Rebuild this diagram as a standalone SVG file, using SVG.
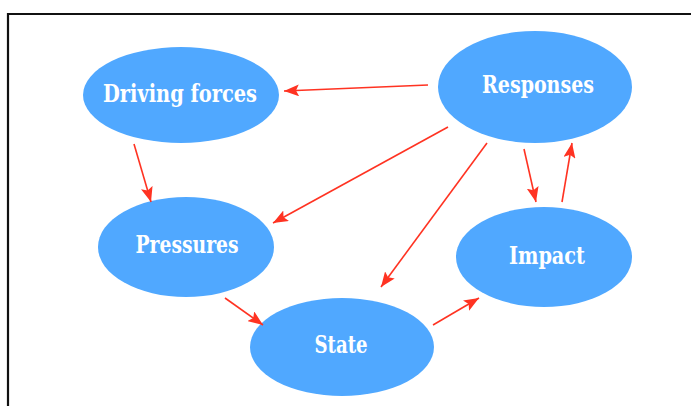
<svg xmlns="http://www.w3.org/2000/svg" width="691" height="406" viewBox="0 0 691 406">
<style>
.node ellipse{fill:#50a8ff}
.node text{fill:#ffffff;font-family:"DejaVu Serif Condensed","DejaVu Serif","Liberation Serif",serif;font-stretch:condensed;font-weight:bold;font-size:24px;text-anchor:middle}
.edges line{stroke:#ff3322;stroke-width:1.6;marker-end:url(#ah)}
</style>
<defs>
<marker id="ah" markerUnits="userSpaceOnUse" markerWidth="16" markerHeight="12" refX="15" refY="6" orient="auto">
<path d="M0,0 L15,6 L0,12 L3,6 Z" fill="#ff3322"/>
</marker>
</defs>
<rect width="691" height="406" fill="#ffffff"/>
<path d="M8,406 V14 H691" fill="none" stroke="#111111" stroke-width="2.2"/>
<g id="driving-forces" class="node"><ellipse cx="181" cy="95" rx="98" ry="48"/><text x="180" y="102" textLength="154" lengthAdjust="spacingAndGlyphs">Driving forces</text></g>
<g id="responses" class="node"><ellipse cx="535" cy="87" rx="97" ry="56"/><text x="538" y="93" textLength="112" lengthAdjust="spacingAndGlyphs">Responses</text></g>
<g id="pressures" class="node"><ellipse cx="186" cy="247" rx="88" ry="50"/><text x="187" y="253" textLength="103" lengthAdjust="spacingAndGlyphs">Pressures</text></g>
<g id="impact" class="node"><ellipse cx="544" cy="257" rx="88" ry="50"/><text x="547" y="264" textLength="76" lengthAdjust="spacingAndGlyphs">Impact</text></g>
<g id="state" class="node"><ellipse cx="342" cy="347" rx="92" ry="49"/><text x="341" y="353" textLength="53" lengthAdjust="spacingAndGlyphs">State</text></g>
<g id="connectors" class="edges">
<line x1="428" y1="85" x2="284" y2="91"/>
<line x1="134" y1="144" x2="151" y2="202"/>
<line x1="448" y1="127" x2="273" y2="223"/>
<line x1="487" y1="143" x2="381" y2="287"/>
<line x1="524" y1="149" x2="536" y2="202"/>
<line x1="562" y1="202" x2="572" y2="143"/>
<line x1="225" y1="298" x2="263" y2="325"/>
<line x1="433" y1="325" x2="479" y2="298"/>
</g>
</svg>
